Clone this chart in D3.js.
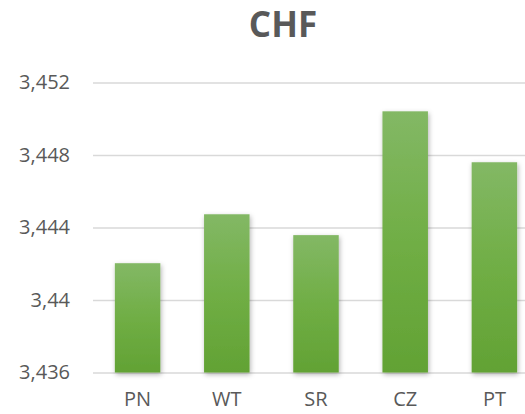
<!DOCTYPE html>
<html><head><meta charset="utf-8">
<script src="https://cdn.jsdelivr.net/npm/d3@7"></script>
<style>html,body{margin:0;padding:0;background:#fff;}</style>
</head><body>
<svg id="chart" width="525" height="414"></svg>
<script>
const categories = ["PN", "WT", "SR", "CZ", "PT"];
const values = [3.44203, 3.44473, 3.44358, 3.45041, 3.4476];
const yTicks = [3.436, 3.44, 3.444, 3.448, 3.452];
const yTickLabels = ["3,436", "3,44", "3,444", "3,448", "3,452"];
const title = "CHF";

(function () {
const svg = d3.select("#chart");
const font = "'Open Sans', sans-serif";
const pLeft = 93, pRight = 539, pTop = 82.5, pBottom = 372.5;

const x = d3.scaleBand().domain(categories).range([pLeft, pRight]).paddingInner(0.49).paddingOuter(0.245);
const y = d3.scaleLinear().domain([3.436, 3.452]).range([pBottom, pTop]);

const defs = svg.append("defs");
const grad = defs.append("linearGradient").attr("id", "g").attr("x1", 0).attr("y1", 0).attr("x2", 0).attr("y2", 1);
grad.append("stop").attr("offset", "0%").attr("stop-color", "#83b865");
grad.append("stop").attr("offset", "50%").attr("stop-color", "#70ae45");
grad.append("stop").attr("offset", "100%").attr("stop-color", "#62a234");
const f = defs.append("filter").attr("id", "sh").attr("x", "-30%").attr("y", "-10%").attr("width", "160%").attr("height", "130%");
f.append("feDropShadow").attr("dx", 1).attr("dy", 2).attr("stdDeviation", 2.5).attr("flood-color", "#000").attr("flood-opacity", 0.3);

const yAxis = d3.axisLeft(y).tickValues(yTicks).tickFormat((d, i) => yTickLabels[i]).tickSize(-(525 - pLeft)).tickPadding(23);
const ga = svg.append("g").attr("transform", `translate(${pLeft},0)`).call(yAxis);
ga.select(".domain").remove();
ga.selectAll(".tick line").attr("stroke", "#d9d9d9").attr("stroke-width", 1.5);
ga.selectAll(".tick text").attr("fill", "#595959").attr("font-family", font).attr("font-size", "20px");

svg.append("g").selectAll("rect").data(values).join("rect")
  .attr("x", (d, i) => x(categories[i]))
  .attr("y", d => y(d))
  .attr("width", x.bandwidth())
  .attr("height", d => y(3.436) - y(d))
  .attr("fill", "url(#g)")
  .attr("filter", "url(#sh)");

const xAxis = d3.axisBottom(x).tickSize(0).tickPadding(19);
const gx = svg.append("g").attr("transform", `translate(0,${pBottom})`).call(xAxis);
gx.select(".domain").remove();
gx.selectAll(".tick text").attr("fill", "#595959").attr("font-family", font).attr("font-size", "20px");

svg.append("text").attr("x", 283).attr("y", 37).attr("text-anchor", "middle")
  .attr("font-family", font).attr("font-weight", "bold").attr("font-size", "35px").attr("fill", "#595959").text(title);
})();
</script>
</body></html>
